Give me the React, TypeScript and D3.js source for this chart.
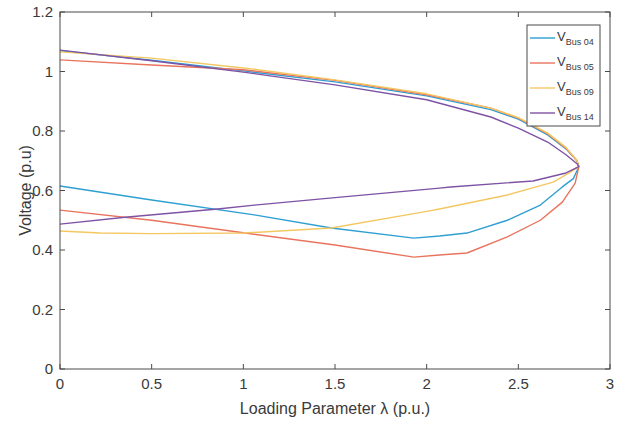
import React from "react";
import * as d3 from "d3";

// ---- data ----
const seriesNames = ["Bus 04", "Bus 05", "Bus 09", "Bus 14"];
const seriesColors = ["#2f9fd2", "#e8745e", "#f3c862", "#7e52a4"];

// each curve: upper branch from lambda=0 to the nose, then lower branch back to lambda=0
const lambdaBus04 = [0, 0.5, 1.0, 1.5, 2.0, 2.35, 2.5, 2.66, 2.76, 2.82, 2.83, 2.8, 2.74, 2.62, 2.44, 2.22, 2.07, 1.93, 1.48, 1.06, 0.5, 0];
const voltBus04 = [1.07, 1.038, 1.002, 0.965, 0.918, 0.872, 0.84, 0.787, 0.74, 0.7, 0.68, 0.64, 0.612, 0.551, 0.5, 0.457, 0.447, 0.44, 0.474, 0.518, 0.568, 0.615];

const lambdaBus05 = [0, 0.5, 1.0, 1.5, 2.0, 2.35, 2.5, 2.66, 2.76, 2.82, 2.83, 2.81, 2.74, 2.62, 2.44, 2.22, 2.07, 1.93, 1.5, 1.01, 0.5, 0];
const voltBus05 = [1.039, 1.022, 1.006, 0.97, 0.922, 0.877, 0.843, 0.79, 0.742, 0.7, 0.68, 0.625, 0.561, 0.5, 0.444, 0.39, 0.383, 0.376, 0.417, 0.457, 0.5, 0.534];

const lambdaBus09 = [0, 0.5, 1.0, 1.5, 2.0, 2.35, 2.5, 2.66, 2.76, 2.82, 2.83, 2.78, 2.69, 2.44, 2.07, 2.0, 1.48, 1.0, 0.5, 0.22, 0];
const voltBus09 = [1.066, 1.045, 1.012, 0.972, 0.925, 0.877, 0.845, 0.793, 0.745, 0.7, 0.68, 0.66, 0.628, 0.585, 0.538, 0.53, 0.474, 0.457, 0.455, 0.457, 0.464];

const lambdaBus14 = [0, 0.5, 1.0, 1.5, 2.0, 2.35, 2.5, 2.66, 2.76, 2.82, 2.83, 2.76, 2.58, 2.13, 2.07, 1.5, 1.06, 0.86, 0.355, 0];
const voltBus14 = [1.072, 1.036, 0.998, 0.955, 0.905, 0.847, 0.81, 0.763, 0.72, 0.69, 0.68, 0.659, 0.632, 0.612, 0.608, 0.576, 0.551, 0.538, 0.51, 0.487];

const xTicks = [0, 0.5, 1, 1.5, 2, 2.5, 3];
const yTicks = [0, 0.2, 0.4, 0.6, 0.8, 1, 1.2];

const xLabel = "Loading Parameter \u03bb (p.u.)";
const yLabel = "Voltage (p.u)";

const lambdas = [lambdaBus04, lambdaBus05, lambdaBus09, lambdaBus14];
const volts = [voltBus04, voltBus05, voltBus09, voltBus14];

export default function App() {
  const W = 637, H = 425;
  const left = 60, right = 610, top = 12, bottom = 369;
  const x = d3.scaleLinear().domain([0, 3]).range([left, right]);
  const y = d3.scaleLinear().domain([0, 1.2]).range([bottom, top]);
  const line = d3.line<[number, number]>().x(d => x(d[0])).y(d => y(d[1]));
  const font = "'Liberation Sans Narrow', 'Liberation Sans', Arial, sans-serif";
  const axisColor = "#4a4a4a";
  const textColor = "#3a3a3a";
  const tl = 5;

  const legX = 527, legY = 25, legW = 73, legH = 101;

  return (
    <svg width={W} height={H} style={{ position: "absolute", left: 0, top: 0, background: "#fff" }}>
      <rect x={0} y={0} width={W} height={H} fill="#fff" />
      {/* curves */}
      <g fill="none" strokeWidth={1.4} strokeLinejoin="round">
        {lambdas.map((ls, i) => (
          <path key={i} d={line(ls.map((l, j) => [l, volts[i][j]] as [number, number])) || ""} stroke={seriesColors[i]} />
        ))}
      </g>
      {/* axes box */}
      <rect x={left} y={top} width={right - left} height={bottom - top} fill="none" stroke={axisColor} strokeWidth={1} />
      {/* ticks */}
      <g stroke={axisColor} strokeWidth={1}>
        {xTicks.map((t, i) => (
          <g key={"x" + i}>
            <line x1={x(t)} x2={x(t)} y1={bottom} y2={bottom - tl} />
            <line x1={x(t)} x2={x(t)} y1={top} y2={top + tl} />
          </g>
        ))}
        {yTicks.map((t, i) => (
          <g key={"y" + i}>
            <line x1={left} x2={left + tl} y1={y(t)} y2={y(t)} />
            <line x1={right} x2={right - tl} y1={y(t)} y2={y(t)} />
          </g>
        ))}
      </g>
      {/* tick labels */}
      <g fill={textColor} fontFamily={font} fontSize={15}>
        {xTicks.map((t, i) => (
          <text key={"xl" + i} x={x(t)} y={bottom + 20} textAnchor="middle">{String(t)}</text>
        ))}
        {yTicks.map((t, i) => (
          <text key={"yl" + i} x={left - 7} y={y(t) + 5} textAnchor="end">{String(t)}</text>
        ))}
      </g>
      {/* axis labels */}
      <text x={(left + right) / 2} y={414} textAnchor="middle" fill={textColor} fontFamily={font} fontSize={16}>{xLabel}</text>
      <text transform={`translate(31, ${(top + bottom) / 2}) rotate(-90)`} textAnchor="middle" fill={textColor} fontFamily={font} fontSize={16}>{yLabel}</text>
      {/* legend */}
      <rect x={legX} y={legY} width={legW} height={legH} fill="#fff" stroke={axisColor} strokeWidth={1} />
      {seriesNames.map((n, i) => {
        const ry = 38 + i * 25;
        return (
          <g key={"lg" + i}>
            <line x1={530} x2={555} y1={ry} y2={ry} stroke={seriesColors[i]} strokeWidth={1.4} />
            <text x={557} y={ry + 3} fill={textColor} fontFamily={font} fontSize={13}>
              V<tspan fontSize={9} dy={4}>{n}</tspan>
            </text>
          </g>
        );
      })}
    </svg>
  );
}
